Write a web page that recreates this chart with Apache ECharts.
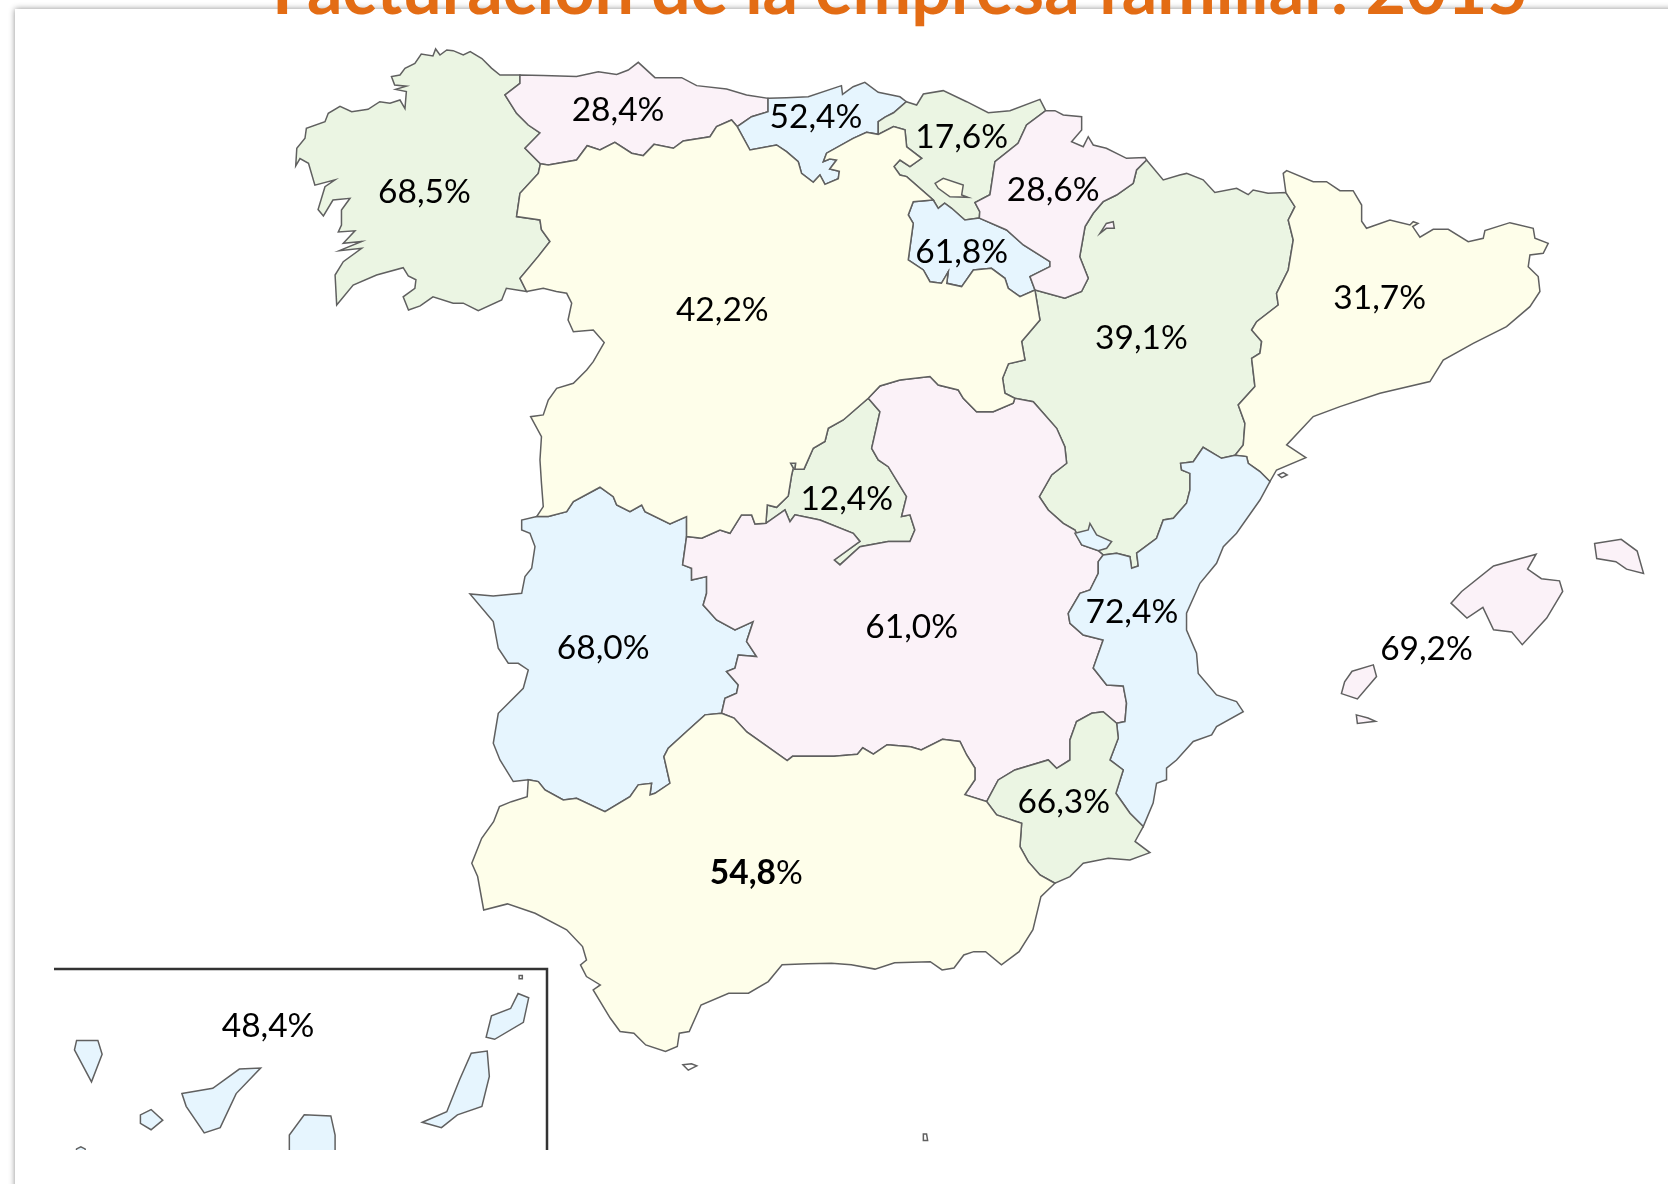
<!DOCTYPE html>
<html>
<head>
<meta charset="utf-8">
<title>Facturación de la empresa familiar: 2015</title>
<script src="https://cdn.jsdelivr.net/npm/echarts@6/dist/echarts.min.js"></script>
<style>
  html, body { margin: 0; padding: 0; background: #fff; }
  #chart { width: 1668px; height: 1184px; }
</style>
</head>
<body>
<div id="chart"></div>
<script>
const titleText = "Facturación de la empresa familiar: 2015";
const regionNames = ["Galicia", "Asturias", "Cantabria", "País Vasco", "Navarra", "La Rioja", "Castilla y León", "Aragón", "Cataluña", "Madrid", "Castilla-La Mancha", "C. Valenciana", "Baleares", "Extremadura", "Murcia", "Andalucía", "Canarias"];
const regionValues = [68.5, 28.4, 52.4, 17.6, 28.6, 61.8, 42.2, 39.1, 31.7, 12.4, 61.0, 72.4, 69.2, 68.0, 66.3, 54.8, 48.4];
const regionGroups = ["green", "pink", "blue", "green", "pink", "blue", "yellow", "green", "yellow", "green", "pink", "blue", "pink", "blue", "green", "yellow", "blue"];
const boldRegions = ["Andalucía"];

// borders, in its 1568x1113 space, shared so neighbours line up
const galCoast = [[488.8,70.5],[470,70.5],[462,64],[453,55],[442,48.5],[435.5,51.7],[426,47.6],[420,47],[413.6,51.7],[409.5,46],[407,52.6],[396,50.8],[390,59.5],[380.7,64.2],[376,70.5],[368,72],[371,80],[382,81],[372,84],[382,86],[380.7,102],[376,94],[366.6,97],[357,95.6],[346,102.8],[330.6,105],[319.6,100],[308.6,106.5],[305.5,114.4],[288,120.6],[286.7,130],[279,139.4],[278,156],[282,149],[290,153.5],[296,174],[315,169],[305.5,175.5],[299,197],[304,203],[313,188],[329,186.4],[321,197.4],[321,211.5],[318,218],[333.7,217],[322.7,228.7],[340,227],[319,235.6],[340,233.4],[322.7,246],[315,258.5],[316.5,286.7],[332,268],[354,258.5],[379,251.6],[383.8,259.4],[391,263],[390,271],[379,279],[384,291.4],[395,287.6],[407,279],[426,285],[435.5,285],[449.6,292],[471.6,282],[476,271],[495,274]];
const galCyl = [[495,274],[488.8,261.6],[506,241],[517,227],[509,216],[507.6,206.8],[485.6,203.6],[488.8,181.7],[506,163],[508,154]];
const galAst = [[508,154],[493.5,139.4],[507.6,125],[496.6,117.5],[485.6,106.5],[474.7,89.3],[488.8,78.3],[488.8,70.5]];
const astCoast = [[488.8,70.5],[510.7,71],[542,72],[562.4,67.4],[579.7,70],[590.6,65.8],[600,58.6],[615.7,73],[640.8,73],[654.9,80.5],[683,83.7],[701.8,89.3],[722,92.4]];
const astCant = [[722,92.4],[722,105],[706.5,109.7],[693,119]];
const astCyl = [[508,154],[515.4,155],[542,150.4],[552,137],[564,141],[578,133.8],[593.8,144],[604.7,146.3],[614.8,135.7],[633,139.4],[642.3,132.5],[667.4,128.5],[673.6,119],[687.7,112.8],[693,119]];
const cantCoast = [[722,92.4],[739.4,91.8],[759.8,90.9],[791,80.5],[792,88.7],[802,81.5],[813,77.4],[825.6,86.8],[846,91],[852,95.6]];
const cantBasque = [[852,95.6],[840,106],[832,110],[825.6,114.4],[825.6,126.3]];
const cantCyl = [[693,119],[705,141],[730,136.3],[739.4,142.6],[750.4,152],[753.5,163],[764.5,171.4],[770.8,164.5],[775.5,173.3],[788,168],[789,161],[780,158.9],[786.4,150.4],[780,149.4],[774,152],[777,144],[802,130],[814.6,124.4],[825.6,126.3]];
const basqueCoast = [[852,95.6],[861.7,98.7],[868,88.4],[886.7,85.2],[908.7,95.6],[929,105.9],[949.4,104],[977.6,93.4],[983,104]];
const basqueNav = [[983,104],[965,117.5],[957,134.7],[935.3,152],[930.6,183],[916.5,190.5],[921,199],[920.6,205]];
const basqueRioja = [[920.6,205],[907,206.8],[894.6,195.8],[888,191],[882,195.8],[877.3,188]];
const basqueCyl = [[825.6,126.3],[840,119],[850.7,122],[852.3,138],[866.4,148.8],[855.4,156.6],[846,150.4],[840.4,156.6],[846,164.5],[852.3,166],[877.3,188]];
const navCoast = [[983,104],[991.7,104],[999.5,108],[1016.8,109.7],[1016.8,122.2],[1007.3,133.2],[1018.3,137.9],[1023,128.5],[1027.7,136.3],[1040,139.4],[1059,148.8],[1076.3,148],[1077.8,150.4]];
const navAragon = [[1077.8,150.4],[1068.4,159.8],[1065.3,172.3],[1049.6,183.3],[1037,189.6],[1027.7,200.5],[1020,213],[1015,241.3],[1023,261.6],[1016.7,274],[1001,280.4],[972.9,272.6]];
const navRioja = [[920.6,205],[946.2,216.2],[962,230.3],[987,246],[987,250.6],[968.2,260],[972.9,272.6]];
const riojaCyl = [[877.3,188],[858.5,189.6],[853.8,202],[858.5,210],[853.8,244.4],[868,253.8],[874.2,264.8],[885,266.3],[891.4,255.4],[890,266.3],[904,269.4],[915,253.8],[932,252.2],[944.7,261.6],[947.8,271],[958.8,278.8],[972.9,272.6]];
const aragonCyl = [[972.9,272.6],[977.6,300.8],[960.4,321],[963.5,338.4],[948,342],[942.5,355.6],[944.7,369.7],[954,374.4]];
const aragonClm = [[954,374.4],[971.3,377.6],[993.3,402.6],[1001,419.9],[1002.7,435.5],[988.6,446.5],[977,466.9],[985.4,479.4],[999.5,491.9],[1010.5,498.2],[1016.8,512.3],[1032.4,517.6],[1037,521.7]];
const aragonVal = [[1161,428],[1148.3,430.8],[1131,420.5],[1121.7,434],[1109.8,435.5],[1110.7,441.8],[1118.6,445],[1118.6,460.6],[1115.4,473],[1103,487.2],[1093.5,488.8],[1087.2,506],[1068.5,520],[1070,532],[1063.8,534.2],[1062.2,523.3],[1049.7,520],[1037,521.7]];
const aragonCat = [[1208.8,181],[1217.3,194.3],[1211,206.8],[1215.7,225.6],[1211,253.8],[1200,275.7],[1201.6,286.7],[1181.3,302.4],[1176.6,310.2],[1186,321],[1184.4,332],[1176.6,336.8],[1179.7,363.4],[1164,380.7],[1170.3,398],[1168.7,418.3],[1161,428]];
const aragonNorth = [[1077.8,150.4],[1093.5,169.2],[1109,164.5],[1115.5,163],[1131,169],[1142,181],[1162.5,177],[1173.4,183],[1178,178.6],[1192,181.7],[1208.8,181]];
const catCoast = [[1208.8,181],[1206.3,163],[1209.5,160.4],[1234.5,170.8],[1247,170.8],[1259.6,179.2],[1272,179.2],[1280,192.7],[1280,208],[1284.6,214.6],[1306.6,206.8],[1325.4,211.5],[1328.5,208.4],[1333,210],[1328,213],[1334.8,223],[1347.3,215.6],[1361.4,215.6],[1380.2,227.2],[1394.3,224],[1395.9,216.8],[1419.4,209.3],[1441.3,214.6],[1442.9,224],[1455.4,228.7],[1450.7,238.1],[1438.2,239.7],[1436.6,250.7],[1446,260],[1447.6,274],[1438.2,288.3],[1416.2,307],[1384.9,322.7],[1356.7,338.4],[1344.2,358.7],[1297.2,369.7],[1259.6,382.2],[1234.5,391.6],[1209.5,418.3],[1227.6,430.2],[1200,441.8],[1193.8,452.7]];
const catVal = [[1193.8,452.7],[1184.4,443.3],[1173.4,435.5],[1171.9,429.2],[1161,428]];
const valCoast = [[1193.8,452.7],[1184.4,470],[1162.4,501.3],[1150,513.9],[1143.6,529.5],[1128,548.3],[1115.4,576.5],[1115.4,592.2],[1124.8,614],[1126.4,633],[1143.6,653.3],[1162.4,659.5],[1168.7,669],[1143.6,683],[1139,690.9],[1121.7,697],[1106,714.4],[1096.6,722],[1096.6,733],[1087.2,736.3],[1084,755],[1074.7,777]];
const valMur = [[1074.7,777],[1062.2,764.5],[1049,745.7],[1055.9,723.8],[1043.4,714.4],[1051.2,694],[1049.7,679.9]];
const valClm = [[1049.7,679.9],[1057.5,678.3],[1059,661],[1055.9,644.8],[1040.3,643.9],[1027.7,628],[1037,601.6],[1018.3,597],[1005.8,585.9],[1004.2,576.5],[1015.2,557.7],[1024.6,554.6],[1032.4,539],[1032.4,528],[1037,521.7]];
const murClm = [[1049.7,679.9],[1037,669],[1026.2,670.5],[1012,678.3],[1005.8,695.6],[1005.8,714.4],[993.3,722.2],[985.4,714.4],[954,723.8],[938.4,733.2],[927.5,753.5]];
const murAnd = [[927.5,753.5],[936.9,766],[960.4,773.9],[958.8,795.8],[966.6,810],[977.6,822.5],[991.7,830.3]];
const murCoast = [[991.7,830.3],[1005.8,824],[1018.3,811.5],[1041.8,806.8],[1062.2,808.4],[1081,801.5],[1067,791],[1074.7,777]];
const clmAnd = [[927.5,753.5],[907,747],[916.5,733],[916.5,722],[908.7,709.7],[902.4,697],[886,695],[866,705],[856,702],[834,700],[821,709],[811,703],[806,709],[784,711],[745,711],[740,715],[702,688],[690,675],[678.3,670.5]];
const extClm = [[645.4,504.4],[641.7,531],[650.1,534.2],[650.1,545.2],[664.2,542],[664.2,557.7],[661,568.7],[673.6,582.8],[690.9,592.2],[708,584.3],[701.8,603],[711.2,617.2],[694,615.7],[690.9,628.2],[683,631.3],[694,643.9],[692.4,651.7],[681.5,656.4],[678.3,670.5]];
const cylClm = [[645.4,504.4],[659.6,506],[676.8,498.2],[686.2,501.3],[697,484],[706.6,484],[709.7,492.5],[720,491.9]];
const madCyl = [[720,491.9],[721.3,474.7],[730,476.9],[741,466.2],[744.2,446.5],[745.7,440],[743.2,435.5],[748,435.5],[747.3,441],[755.8,441],[764.5,421.4],[775.5,415],[778.6,402.6],[792.7,394.8],[816.2,374.4]];
const madClm = [[816.2,374.4],[827.2,387],[819.4,421.4],[825.6,432.4],[835,438.7],[852.2,466.9],[847.5,485.6],[855.4,484],[860,498.2],[855.4,509],[835,509],[808.4,513.9],[789.6,531],[784.3,526.4],[808.4,509],[802.1,501.3],[770.8,488.8],[747.3,484],[742.6,490.4],[737.9,479.4],[720,491.9]];
const clmCyl = [[816.2,374.4],[827.2,362.8],[846,357.2],[874.2,354],[882,361.9],[900.8,366.6],[905.5,374.4],[918,387],[933.7,387],[952.5,379],[954,374.4]];
const cylWest = [[495,274],[510.7,271],[523,274],[532.7,275.7],[537.4,285],[534,300.8],[539,311.8],[557.7,310.2],[568,322],[557.7,340],[551.5,347.8],[539,360.3],[523.3,365],[515.4,376],[510.7,390],[498.8,391.7],[509,410.5],[507.6,432.4],[509,454.3],[510.7,476.2],[504.5,485.6]];
const cylExt = [[504.5,485.6],[515.4,485.6],[532.7,481],[539,471.6],[564,458],[576.5,466.9],[579.7,474.7],[592.2,481],[603.2,474.7],[606.3,481],[629.8,492.5],[645.4,485.6],[645.4,504.4]];
const extAnd = [[678.3,670.5],[662.7,672],[647,686.2],[628.2,703.4],[624.1,711.2],[629.8,736.3],[615.7,745.7],[611,747.3],[612.5,736.3],[600,737.8],[592.2,748.8],[568.7,763],[542,750.4],[529.5,752],[512.3,742.6],[506,734.7],[496.6,733]];
const extWest = [[496.6,733],[482.5,734.7],[470,714.4],[463.7,698.7],[468.4,670.5],[491.9,647],[496.6,629.8],[487.2,623.5],[477.8,623.5],[468.4,609.4],[463.7,584.3],[441.8,558.3],[463.7,560.2],[490.4,557.7],[493.5,542],[499.8,534.2],[502.9,513.8],[498.2,501.3],[490.4,498.2],[490.4,488.8],[504.5,485.6]];
const andCoast = [[496.6,733],[495.6,748.9],[480.7,753.6],[469.5,758.3],[464,772.4],[452.8,788],[443.5,811.5],[449,824],[454.7,855.4],[477,849.7],[503,858.5],[532.7,874],[547.6,889.8],[551.3,902.4],[545.7,907],[551.3,918],[564.3,925.9],[557.6,930.6],[573.6,957],[582.9,969.7],[595.9,971.3],[607,982.3],[625.6,988.5],[636.7,983.8],[638.6,971.3],[647.9,969.7],[659,944.7],[685,933.7],[703.6,933.7],[722.2,922.7],[735.2,907],[759.3,906],[781.6,905.5],[800.2,907],[822.5,911],[841,905],[874.5,904],[885.6,911.8],[896.8,910],[906,897.7],[915.4,894.6],[926.5,894.6],[941.4,907],[958,894.6],[971,874],[978.5,842.9],[991.7,830.3]];

const trevino = [[879,172.3],[886.7,167.6],[905.5,174],[904,183.3],[910,185.5],[893,185],[882,177]];
const petilla = [[1034,219.3],[1040,210],[1046.5,208.4],[1047.5,214.6],[1040,214.6]];
const ademuz = [[1010.5,501.3],[1023,498.2],[1024.6,492],[1030.9,502.9],[1045,509],[1040.3,515.4],[1032.4,517.6],[1016.8,512.3]];
const mallorca = [[1364,567],[1379,581],[1394,571],[1404,592],[1421,594],[1431,606],[1454,581],[1469,556],[1466,546],[1449,544],[1436,535],[1444,521],[1404,532],[1374,556]];
const menorca = [[1499,511],[1524,507],[1539,518],[1545,539],[1529,535],[1519,528],[1501,525]];
const ibiza = [[1271,631],[1291,625],[1294,636],[1276,657],[1261,652],[1264,641]];
const formentera = [[1275,672],[1286,675],[1293,678],[1276,680]];
const laPalma = [[72,978],[92,978],[96,991],[86,1017],[70,987]];
const tenerife = [[171,1028],[200,1023],[225,1005],[245,1004],[222,1028],[207,1060],[192,1065],[175,1040]];
const gomera = [[142,1043],[153,1053],[142,1062],[132,1056],[132,1048]];
const granCanaria = [[272,1095],[272,1067],[286,1048],[311,1049],[315,1067],[315,1095]];
const hierro = [[70,1095],[72,1080],[76,1078],[80,1080],[82,1095]];
const fuerte = [[397,1055],[420,1045],[432,1015],[443,990],[458,988],[460,1012],[453,1040],[430,1048],[415,1060]];
const lanzarote = [[457,975],[462,955],[480,948],[487,934],[497,938],[492,961],[465,977]];
const alegranza = [[488,917],[491,917],[491,920],[488,920]];
const ceuta = [[642,1001],[650,1000],[655,1002],[647,1006]];
const melilla = [[868,1066],[871,1066],[872,1072],[868,1072]];
const columbretes = [[1201.6,446.5],[1206.3,444.3],[1210,446.5],[1204.8,449]];

const rev = a => a.slice().reverse();
const ring = (...parts) => {
  const pts = [].concat(...parts);
  return pts.concat([pts[0]]);
};
const closed = a => ring(a);

const labelAt = {
  "Galicia": [399,179], "Asturias": [581,102], "Cantabria": [767,108], "País Vasco": [904,127],
  "Navarra": [990,177], "La Rioja": [904,235], "Castilla y León": [679,290], "Aragón": [1073,316],
  "Cataluña": [1297,278], "Madrid": [796,467], "Castilla-La Mancha": [857,588], "C. Valenciana": [1064,574],
  "Baleares": [1341,608], "Extremadura": [567,607], "Murcia": [1000,752], "Andalucía": [711,819], "Canarias": [252,963]
};

// order matters: enclaves sit on top of what surrounds them
const shapes = [
  ["Galicia", [ring(galCoast, galCyl, galAst)]],
  ["Asturias", [ring(astCoast, astCant, rev(astCyl), galAst)]],
  ["Cantabria", [ring(cantCoast, cantBasque, rev(cantCyl), rev(astCant))]],
  ["País Vasco", [ring(basqueCoast, basqueNav, basqueRioja, rev(basqueCyl), rev(cantBasque))]],
  ["La Rioja", [ring(basqueRioja, riojaCyl, rev(navRioja))]],
  ["Aragón", [ring(aragonNorth, aragonCat, aragonVal, rev(aragonClm), rev(aragonCyl), rev(navAragon))]],
  ["Navarra", [ring(navCoast, navAragon, rev(navRioja), rev(basqueNav)), closed(petilla)]],
  ["Cataluña", [ring(catCoast, catVal, rev(aragonCat))]],
  ["Extremadura", [ring(cylExt, extClm, extAnd, extWest)]],
  ["Madrid", [ring(madCyl, madClm)]],
  ["Castilla-La Mancha", [ring(cylClm, rev(madClm), clmCyl, aragonClm, rev(valClm), murClm, clmAnd, rev(extClm))]],
  ["Castilla y León", [ring(cylWest, cylExt, cylClm, madCyl, clmCyl, rev(aragonCyl), rev(riojaCyl), rev(basqueCyl), rev(cantCyl), rev(astCyl), rev(galCyl)), closed(trevino)]],
  ["C. Valenciana", [ring(valCoast, valMur, valClm, rev(aragonVal), rev(catVal)), closed(ademuz)]],
  ["Murcia", [ring(murClm, murAnd, murCoast, valMur)]],
  ["Andalucía", [ring(rev(clmAnd), murAnd, rev(andCoast), rev(extAnd))]],
  ["Baleares", [mallorca, menorca, ibiza, formentera].map(closed)],
  ["Canarias", [laPalma, tenerife, gomera, granCanaria, hierro, fuerte, lanzarote].map(closed)],
  ["Islotes", [alegranza, ceuta, melilla, columbretes].map(closed)]
];

const spain = {
  type: "FeatureCollection",
  features: shapes.map(([name, polys]) => ({
    type: "Feature",
    properties: { name: name, cp: labelAt[name] },
    geometry: { type: "MultiPolygon", coordinates: polys.map(p => [p]) }
  }))
};

const fills = { green: "#ebf5e3", pink: "#fbf2f8", blue: "#e6f5fe", yellow: "#fefeea" };
const fmt = v => v.toFixed(1).replace(".", ",");

echarts.registerMap("spain", spain);
const chart = echarts.init(document.getElementById("chart"));
chart.setOption({
  animation: false,
  backgroundColor: "#fff",
  title: {
    text: titleText,
    left: 267,
    top: -49,
    textStyle: { color: "#e36c14", fontFamily: "Lato", fontWeight: "bold", fontSize: 70 }
  },
  graphic: [
    { type: "rect", z: -1, silent: true, shape: { x: 15, y: 9, width: 1800, height: 1300 },
      style: { fill: "#fff", shadowBlur: 6, shadowColor: "rgba(0,0,0,0.45)" } },
    { type: "polyline", z: 5, silent: true, shape: { points: [[54, 969], [547, 969], [547, 1150]] },
      style: { fill: null, stroke: "#333", lineWidth: 2.5 } },
    // the source picture is cropped under the Canaries
    { type: "rect", z: 10, silent: true, shape: { x: 20, y: 1150, width: 800, height: 34 },
      style: { fill: "#fff" } }
  ],
  series: [{
    type: "map",
    map: "spain",
    silent: true,
    projection: { project: p => p, unproject: p => p },
    boundingCoords: [[0, 0], [1568, 1113]],
    layoutCenter: ["50%", "50%"],
    layoutSize: 1668,
    roam: false,
    selectedMode: false,
    itemStyle: { areaColor: "#fff", borderColor: "#606060", borderWidth: 1.5 },
    emphasis: { disabled: true },
    label: {
      show: true,
      color: "#000",
      fontFamily: "Lato",
      fontSize: 33.5,
      offset: [0, 2],
      formatter: p => {
        if (isNaN(p.value)) return "";
        const txt = fmt(p.value);
        return boldRegions.includes(p.name) ? "{b|" + txt + "}%" : txt + "%";
      },
      rich: { b: { fontFamily: "Lato", fontSize: 33.5, fontWeight: "bold", color: "#000" } }
    },
    data: regionNames.map((name, i) => ({
      name: name,
      value: regionValues[i],
      itemStyle: { areaColor: fills[regionGroups[i]] }
    }))
  }]
});
</script>
</body>
</html>
